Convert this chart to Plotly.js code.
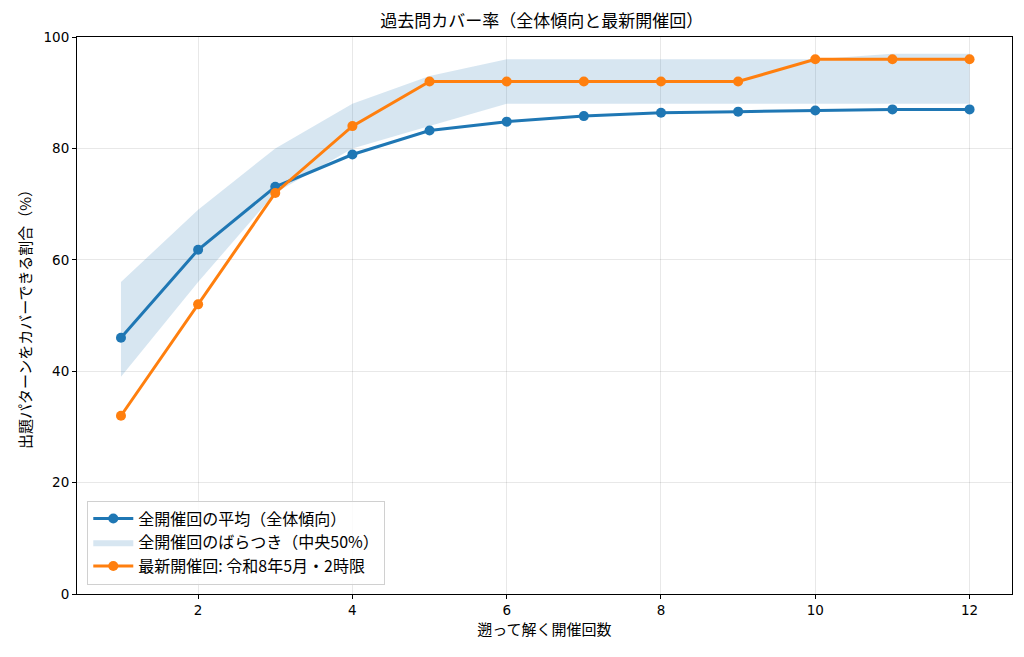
<!DOCTYPE html>
<html>
<head>
<meta charset="utf-8">
<script src="https://cdn.plot.ly/plotly-3.0.1.min.js"></script>
<style>
  html, body { margin: 0; padding: 0; background: #fff; }
  #chart { width: 1024px; height: 657px; }
</style>
</head>
<body>
<div id="chart"></div>
<script>
// how many past sessions are solved
var sessions = [1, 2, 3, 4, 5, 6, 7, 8, 9, 10, 11, 12];

// mean coverage over all sessions
var meanCover = [46.0, 61.8, 73.1, 78.9, 83.2, 84.8, 85.8, 86.4, 86.6, 86.8, 87.0, 87.0];
// middle 50% spread
var bandLow = [39, 56, 72, 80, 84, 88, 88, 88, 88, 88, 88, 88];
var bandHigh = [56, 69, 80, 88, 93, 96, 96, 96, 96, 96, 97, 97];
// latest session: R8 May, 2nd period
var latestCover = [32, 52, 72, 84, 92, 92, 92, 92, 92, 96, 96, 96];

var blue = '#1f77b4';
var orange = '#ff7f0e';
var fnt = 'Noto Sans CJK JP, DejaVu Sans, sans-serif';
var numFnt = 'DejaVu Sans, sans-serif';

var upper = {
  x: sessions, y: bandHigh,
  mode: 'lines', type: 'scatter',
  line: {width: 0, color: 'rgba(31,119,180,0)'},
  showlegend: false, hoverinfo: 'skip'
};
var lower = {
  x: sessions, y: bandLow,
  mode: 'lines', type: 'scatter',
  fill: 'tonexty',
  fillcolor: 'rgba(31,119,180,0.18)',
  line: {width: 0, color: 'rgba(31,119,180,0)'},
  name: '全開催回のばらつき（中央50%）',
  legendrank: 2
};
var mean = {
  x: sessions, y: meanCover,
  mode: 'lines+markers', type: 'scatter',
  line: {color: blue, width: 3},
  marker: {color: blue, size: 10},
  name: '全開催回の平均（全体傾向）',
  legendrank: 1
};
var latest = {
  x: sessions, y: latestCover,
  mode: 'lines+markers', type: 'scatter',
  line: {color: orange, width: 3},
  marker: {color: orange, size: 10},
  name: '最新開催回: 令和8年5月・2時限',
  legendrank: 3
};

var layout = {
  width: 1024,
  height: 657,
  margin: {l: 77, r: 12, t: 37, b: 63},
  paper_bgcolor: '#fff',
  plot_bgcolor: '#fff',
  font: {family: fnt, size: 15, color: '#000'},
  title: {
    text: '過去問カバー率（全体傾向と最新開催回）',
    font: {family: fnt, size: 17, color: '#000'},
    x: 0.529, xanchor: 'center', y: 0.968, yanchor: 'middle'
  },
  xaxis: {
    range: [0.43, 12.55],
    tickvals: [2, 4, 6, 8, 10, 12],
    ticks: 'outside', ticklen: 4, tickcolor: '#000',
    tickfont: {family: numFnt, size: 13.5},
    showline: true, mirror: true, linecolor: '#000', linewidth: 1,
    showgrid: true, gridcolor: 'rgba(0,0,0,0.09)',
    zeroline: false,
    title: {text: '遡って解く開催回数', font: {family: fnt, size: 15}, standoff: 6}
  },
  yaxis: {
    range: [0, 100],
    tickvals: [0, 20, 40, 60, 80, 100],
    ticks: 'outside', ticklen: 4, tickcolor: '#000',
    tickfont: {family: numFnt, size: 13.5},
    showline: true, mirror: true, linecolor: '#000', linewidth: 1,
    showgrid: true, gridcolor: 'rgba(0,0,0,0.09)',
    zeroline: false,
    title: {text: '出題パターンをカバーできる割合（%）', font: {family: fnt, size: 15}, standoff: 8}
  },
  legend: {
    x: 0.011, y: 0.017, xanchor: 'left', yanchor: 'bottom',
    traceorder: 'normal',
    bgcolor: 'rgba(255,255,255,0.8)',
    bordercolor: '#d0d0d0', borderwidth: 1,
    font: {family: fnt, size: 16, color: '#000'},
    itemwidth: 40,
    tracegroupgap: 0
  },
  showlegend: true,
  hovermode: 'closest'
};

Plotly.newPlot('chart', [upper, lower, mean, latest], layout, {displayModeBar: false, staticPlot: true});
</script>
</body>
</html>
